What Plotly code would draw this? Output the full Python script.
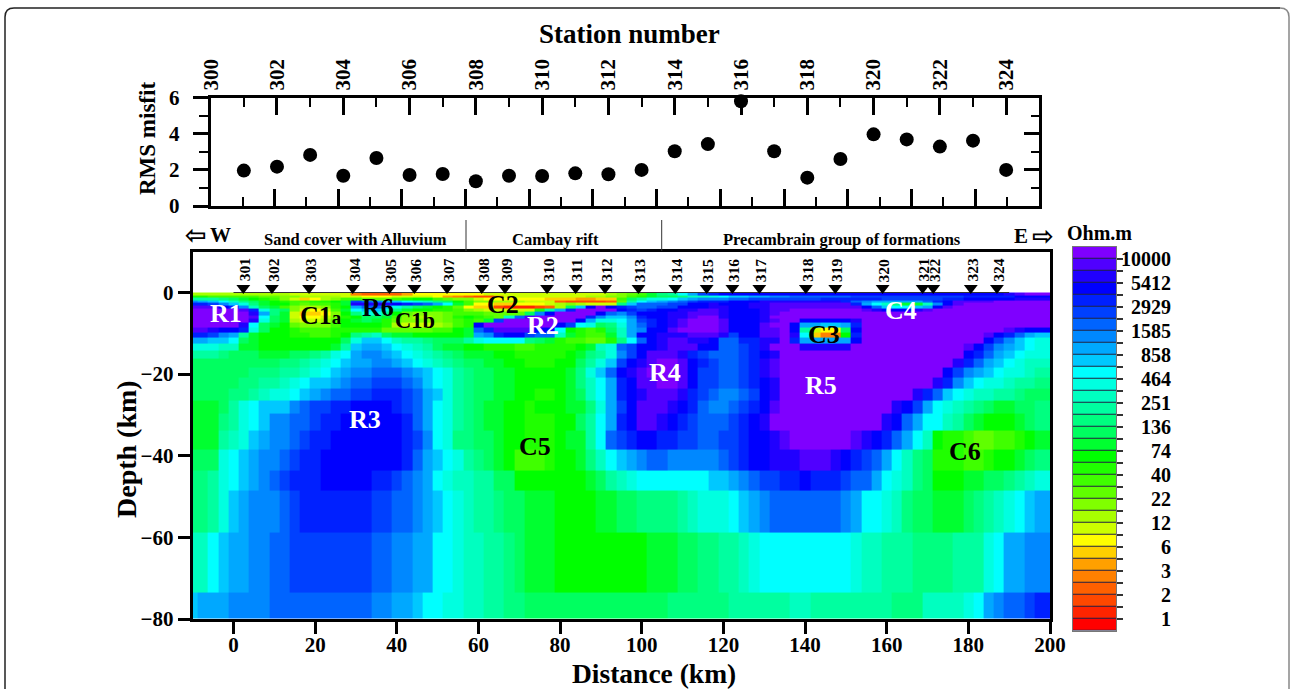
import plotly.graph_objects as go

W, H = 1290, 689
SERIF = "Liberation Serif"

# --- RMS misfit panel
station_numbers = list(range(301, 325))
rms_misfit = [1.96, 2.18, 2.83, 1.68, 2.66, 1.72, 1.77, 1.37, 1.68, 1.66, 1.81, 1.76,
              2.0, 3.03, 3.43, 5.8, 3.03, 1.57, 2.6, 3.97, 3.69, 3.29, 3.62, 2.0]

# --- station positions along the profile (km)
station_km = [2.4, 9.4, 18.5, 29.2, 38.2, 44.3, 52.3, 60.8, 66.5, 76.8, 83.8, 91.0,
              99.2, 108.2, 115.9, 122.2, 128.8, 140.2, 147.4, 159.0, 168.8, 171.4, 180.6, 187.0]

# --- resistivity section: depth cell edges (km) and colour class per cell
depth_edges = [0, -0.7, -1.3, -1.9, -2.5, -3.3, -4, -4.7, -5.6, -6.4, -7.4, -8.6, -9.8, -11.1,
               -12.6, -14.3, -16.2, -18.4, -20.9, -23.6, -26.5, -29.7, -33.9, -38.4, -43.5,
               -48.6, -58.8, -73.6, -80]
# base-32 class digit per 2.5 km cell centred on -10, -7.5, ... 197.5, 200
depth_00 = "9999 99999988 88884333 35777777 78888888 888889ab cfhilnqr ssssssss ssssssss ssssssss sssstuvv v"
depth_01 = "ddcc cccbbaa9 99988777 88887543 22588888 88899aac dfgghjjk lmmnnoop pppppqqq qqqqqqqq rrrrrsss s"
depth_02 = "iiih gfedca86 79accbbb cdeecbaa 87777776 665566cg ikklmnoo oppqqqqq qqrrrrrr qqqqqqrr sssssttt t"
depth_03 = "onml jhgfedcc ddefqpon mlkjhgec aa999888 322223bi lmnopqrr rssstttt ttttrpon nnnnprsu uuuvvvvv v"
depth_04 = "rrqo mkhfeecb ccdftttt srqpnlfc 77667778 9a9888hm pppqqsst sssttuuu uuuuurnl jhffjosu vvvvvvvv v"
depth_05 = "uuus rojgfca9 9adenppn kigfedb7 66211123 9gmsvsrq ppqqssst tssttuuu uuuuuusp mllmnsuv vvvvvvvv v"
depth_06 = "vvvv vurkhga8 78cflmmk hfeeddca 988888di nrvvvvsr qrssttuu tssstuuv vvvvvvut ssstuvvv vvvvvvvv v"
depth_07 = "vvvv vvtnhf86 67aehkki ebaaabcc cbbbbgos vvvvspoq sssttuuu tssstuvv vvvvvvvv vvvvvvvv vvvvvvvv v"
depth_08 = "vvvv vvulgf87 78adeggf ca99abde dcbjpuvv vvvrommo rssttuvv tssstvvv vvvvvvvv vvvvvvvv vvvvvvvv v"
depth_09 = "vvvv vvtkgf98 89befgfd baaaabcd cfqvvvvv vvsnkkln qrstuvvv ussstuvv ssssstvv vvvvvvvv vvvvvvvv v"
depth_10 = "vvvv vtlgfeba aaceeeed 98889acd svvvvvvv sqlkghkn prstuvvv usssuvvs nnmmnrvv vvvvvvvv vvvvvvvv v"
depth_11 = "uuts srkgeedc ccdddddb bbbbccef pruuuuss ledcdgjn ossuvvvv usssuuvs i877gsvv vvvvvvvv vvvvutss s"
depth_12 = "rrqo nifeeedd ccdehijg ffeeeeef norssqpp jfdccfjn sstttuuu tqssuuvt l644ervv vvvvvvvv vvusrpnm m"
depth_13 = "nnmm lgfeeeee eeegkmml jiihgggi kllllhgf dccbbdhl pstuutts pprrttvr nnnnnsvv vvvvvvvv vvsqomlk k"
depth_14 = "kkkj jffeeeee eefimnnm lkjigffe edddccdd ddefjkpq sstuuuss ppqrtvvv tttttvvv vvvvvvvv usqonmlk k"
depth_15 = "iiih gggfffgg hiklnoon mlkjihgf ffeedddd defhikoq suuutrqp ppqrstvv vvvvvvvv vvvvvvvv srpnmlkk k"
depth_16 = "gggg ggggghhi jklmnnoo nmlkjihg gffeeddd eegikmqs tuvvusrq ppqrtuvv vvvvvvvv vvvvvvvt rpnmlkjj j"
depth_17 = "gggg gghhhiij klmnoopp ponmlkih ggffeeee efhkmpst uvvvusqq ppqrtuvv vvvvvvvv vvvvvvsq onmlkkji i"
depth_18 = "gggg ghhiijkl mmnoppqq qpomlkih ggffeeee efhjlnrs uuvvusqq ppqrstvv vvvvvvvv vvvvvtro mlkkjiih h"
depth_19 = "gggg hhijkklm noppqqrr rqpnmkih ggffeedd efgjlnrs tuuutrqp oopqstvv vvvvvvvv vvvtrpml kjjiihgg g"
depth_20 = "fffg iklmmmop qqrrssss rqpnlkih gffeedee effhknqs uuutsrpo opqrsuvv vvvvvvvv vtsqnlkj ihgffggh h"
depth_21 = "fffh iklmoopp qrrsssss srpnlkih gffeeddd eegilnrs uutsrqpp pqrstvvv vvvvvvvv tspnllji gfeeefgh h"
depth_22 = "fffi jkmnoopq rrssssss srqolkhh ggfeeddd effilpqr ssrrqqpp qqrsstuv vvvvvuts rpnljedd cbbccdef f"
depth_23 = "gggk lmnoopqr rsssssss srpnmlki hgfecccd eefhjlmn oppooooo pqrssttt uuutsrqp nljhgddd ccdeefgh h"
depth_24 = "hhik lmnopqrr rsssssrr qponlkjj iiggeeee eeefgijk lllllllm mnopqqrr srrrqppn lkjhgeee ffgghijk k"
depth_25 = "hhik mnooopqr rrrrrrqq pponmlkj iihggfff eeeeffgg hhhhijkk klmnoppp pppponll kjhggfff ghijklmn n"
depth_26 = "jjlm nnooppqq qqqqqqpp oonnllkj jiihgfff eeeeeeee efffgghh iijkllll lllllkjj iiihhhhi iiklnnoo o"
depth_27 = "mnnn oooopppp ppppppoo nnmllkkj jiihhggg gggggggg ggghhhhh hiiiiiij jiiiiiii ihhhjjjj klnoppqr r"
depth_rows = [depth_00, depth_01, depth_02, depth_03, depth_04, depth_05, depth_06, depth_07,
              depth_08, depth_09, depth_10, depth_11, depth_12, depth_13, depth_14, depth_15,
              depth_16, depth_17, depth_18, depth_19, depth_20, depth_21, depth_22, depth_23,
              depth_24, depth_25, depth_26, depth_27]

# --- colour classes from bottom (1 ohm.m) to top (10000 ohm.m)
class_colors = ["#ff0000", "#ff2400", "#ff4800", "#ff6000", "#ff8000", "#ffa000", "#ffd000", "#ffff00",
                "#ccff00", "#a8ff00", "#80ff00", "#60ff00", "#40ff00", "#20ff00", "#00ff00", "#00ff30",
                "#00ff60", "#00ff80", "#00ffa0", "#00ffc0", "#00ffe0", "#00ffff", "#00c8ff", "#00a8ff",
                "#0088ff", "#0064ff", "#0040ff", "#0020ff", "#0000ff", "#2000ff", "#5000ff", "#7f00ff"]
scale_labels = ["10000", "5412", "2929", "1585", "858", "464", "251", "136",
                "74", "40", "22", "12", "6", "3", "2", "1"]

regions = [("R1", 226, 313, "white", 26), ("C1<span style='font-size:19px'>a</span>", 321, 315, "black", 26),
           ("R6", 378, 307, "black", 26), ("C1b", 415, 320, "black", 22.5), ("C2", 503, 305, "black", 26),
           ("R2", 543, 325, "white", 26), ("C3", 824, 334, "black", 26), ("C4", 901, 310, "white", 26),
           ("R4", 665, 372, "white", 26), ("R5", 821, 385, "white", 26), ("R3", 365, 419, "white", 26),
           ("C5", 535, 446, "black", 26), ("C6", 965, 451, "black", 26)]
section_labels = [("Sand cover with Alluvium", 355), ("Cambay rift", 555), ("Precambrain group of formations", 842)]


def px(x):
    return x / W


def py(y):
    return 1 - y / H


def bold(size):
    return dict(family=SERIF, size=size, color="black", weight="bold")


def text(txt, x, y, size, color="black", angle=0, xanchor="center", family=SERIF, **kw):
    d = dict(text=txt, x=kw.pop("xv", px(x)), y=kw.pop("yv", py(y)), xref=kw.pop("xref", "paper"),
             yref=kw.pop("yref", "paper"), showarrow=False, textangle=angle, xanchor=xanchor, yanchor="middle",
             font=dict(family=family, size=size, color=color, weight="bold"))
    return d


def cells(row):
    return [int(c, 32) for c in row.replace(" ", "")]


n_levels = len(class_colors)
colorscale = []
for i, c in enumerate(class_colors):
    colorscale += [[i / n_levels, c], [(i + 1) / n_levels, c]]

x_edges = [-11.25 + 2.5 * i for i in range(86)]
z_rows = [cells(r) for r in depth_rows][::-1]
y_edges = depth_edges[::-1]

fig = go.Figure()
# top panel
fig.add_trace(go.Scatter(x=station_numbers, y=rms_misfit, mode="markers", xaxis="x", yaxis="y", cliponaxis=False,
                         marker=dict(color="black", size=14, line=dict(width=0)), hoverinfo="skip"))
fig.add_trace(go.Scatter(x=[None], y=[None], xaxis="x4", yaxis="y4", hoverinfo="skip"))
# section
fig.add_trace(go.Heatmap(x=x_edges, y=y_edges, z=z_rows, xaxis="x2", yaxis="y2", colorscale=colorscale,
                         zmin=-0.5, zmax=n_levels - 0.5, showscale=False, hoverinfo="skip"))
fig.add_trace(go.Scatter(x=[0, 190], y=[0, 0], mode="lines", xaxis="x2", yaxis="y2",
                         line=dict(color="#333333", width=1), hoverinfo="skip"))
fig.add_trace(go.Scatter(x=station_km, y=[1.1] * len(station_km), mode="markers", xaxis="x2", yaxis="y2",
                         marker=dict(symbol="triangle-down", color="black", size=12, line=dict(width=0)),
                         hoverinfo="skip"))
# colour scale
fig.add_trace(go.Heatmap(x=[0, 1], y=[i - 0.5 for i in range(n_levels + 1)], z=[[i] for i in range(n_levels)],
                         xaxis="x3", yaxis="y3", colorscale=colorscale, zmin=-0.5, zmax=n_levels - 0.5,
                         showscale=False, ygap=1, hoverinfo="skip"))

top_dom = [py(206), py(97.7)]
x_dom = [px(210.7), px(1039.3)]
main_x = [px(192.7), px(1050)]
main_y = [py(619), py(251.7)]
LW = 3
fig.update_layout(
    width=W, height=H, margin=dict(l=0, r=0, t=0, b=0, autoexpand=False), autosize=False, showlegend=False,
    paper_bgcolor="white", plot_bgcolor="white",
    xaxis=dict(domain=x_dom, range=[300, 325], anchor="y", side="top", showgrid=False, zeroline=False,
               showline=True, linewidth=LW, linecolor="black", ticks="inside", ticklen=17, tickwidth=LW - 0.5,
               tickcolor="black", tickmode="array", tickvals=list(range(300, 325, 2)), tickangle=-90,
               tickfont=bold(21), minor=dict(tickmode="array", tickvals=list(range(301, 325, 2)), ticks="inside",
                                             ticklen=9, tickwidth=2, tickcolor="black")),
    xaxis4=dict(domain=x_dom, range=[0, 26.015], anchor="y", side="bottom", overlaying="x", showgrid=False,
                zeroline=False, showline=True, linewidth=LW, linecolor="black", ticks="inside", ticklen=17,
                tickwidth=LW - 0.5, tickcolor="black", tickmode="array", tickvals=list(range(2, 26, 2)),
                showticklabels=False,
                minor=dict(tickmode="array", tickvals=list(range(1, 27, 2)), ticks="inside", ticklen=9,
                           tickwidth=2, tickcolor="black")),
    yaxis=dict(domain=top_dom, range=[0, 6], anchor="x", side="left", showgrid=False, zeroline=False, showline=True,
               linewidth=LW, linecolor="black", ticks="outside", ticklen=15, tickwidth=LW - 0.5, tickcolor="black",
               tickmode="array", tickvals=[0, 2, 4, 6], tickfont=bold(21), ticklabelstandoff=9,
               minor=dict(tickmode="array", tickvals=[1, 3, 5], ticks="outside", ticklen=9, tickwidth=2,
                          tickcolor="black")),
    yaxis4=dict(domain=top_dom, range=[0, 6], anchor="x", side="right", overlaying="y", showgrid=False, zeroline=False,
                showline=True, linewidth=LW, linecolor="black", ticks="inside", ticklen=15, tickwidth=LW - 0.5,
                tickcolor="black", tickmode="array", tickvals=[2, 4], showticklabels=False,
                minor=dict(tickmode="array", tickvals=[1, 3, 5], ticks="inside", ticklen=8, tickwidth=2,
                           tickcolor="black")),
    xaxis2=dict(domain=main_x, range=[-10, 200], anchor="y2", showgrid=False, zeroline=False, showline=True,
                mirror=True, linewidth=LW, linecolor="black", ticks="outside", ticklen=12, tickwidth=LW - 0.5,
                tickcolor="black", tickmode="array", tickvals=list(range(0, 201, 20)), tickfont=bold(21),
                ticklabelstandoff=-7),
    yaxis2=dict(domain=main_y, range=[-80, 10], anchor="x2", showgrid=False, zeroline=False, showline=True,
                mirror=True, linewidth=LW, linecolor="black", ticks="outside", ticklen=12, tickwidth=LW - 0.5,
                tickcolor="black", tickmode="array", tickvals=[0, -20, -40, -60, -80], tickfont=bold(21)),
    xaxis3=dict(domain=[px(1073), px(1116)], range=[0, 1], anchor="y3", showgrid=False, zeroline=False,
                showline=True, mirror=True, linewidth=1, linecolor="#777777", ticks="", showticklabels=False),
    yaxis3=dict(domain=[py(630.7), py(246.7)], range=[-0.5, n_levels - 0.5], anchor="x3", side="right", showgrid=False,
                zeroline=False, showline=True, mirror=True, linewidth=1, linecolor="#777777", ticks="outside",
                ticklen=6, tickwidth=1.5, tickcolor="#333333", tickmode="array",
                tickvals=[i + 0.5 for i in range(n_levels - 1)], showticklabels=False),
)

ann = [text("Station number", 629, 34, 27), text("RMS misfit", 147, 139, 23, angle=-90),
       text("Depth (km)", 127, 449, 28, angle=-90), text("Distance (km)", 654, 673, 27.5),
       text("Ohm.m", 1099, 233, 20),
       text("\u21e6", 196, 235, 26, family="DejaVu Sans"), text("W", 220, 235, 21),
       text("E", 1021, 236, 21), text("\u21e8", 1043, 236, 26, family="DejaVu Sans")]
for label, cx in section_labels:
    ann.append(text(label, cx, 240, 16.5))
for label, cx, cy, col, size in regions:
    ann.append(text(label, cx, cy, size, color=col))
for num, km in zip(station_numbers, station_km):
    ann.append(text(str(num), 0, 270, 15.5, angle=-90, xref="x2", xv=km + 0.2))
for i, label in enumerate(scale_labels):
    ann.append(text(label, 1173, 0, 20, xanchor="right", yref="y3", yv=n_levels - 1.5 - 2 * i))
fig.update_layout(annotations=ann)

shapes = [
    dict(type="rect", xref="x3", yref="y3", x0=0, x1=1, y0=-0.5, y1=n_levels - 0.5, layer="below",
         fillcolor="#222244", line=dict(width=0)),
    dict(type="line", xref="paper", yref="paper", x0=px(466), x1=px(466), y0=py(220), y1=py(251),
         line=dict(color="#333333", width=1)),
    dict(type="line", xref="paper", yref="paper", x0=px(661.7), x1=px(661.7), y0=py(220), y1=py(251),
         line=dict(color="#333333", width=1)),
    dict(type="path", xref="paper", yref="paper", layer="below",
         path=f"M {px(5)} {py(700)} L {px(5)} {py(17)} Q {px(5)} {py(8)} {px(14)} {py(8)} L {px(1280)} {py(8)}",
         line=dict(color="#222222", width=1.5)),
    dict(type="path", xref="paper", yref="paper", layer="below",
         path=f"M {px(1280)} {py(8)} Q {px(1289)} {py(8)} {px(1289)} {py(17)} L {px(1289)} {py(700)}",
         line=dict(color="#888888", width=1.5)),
]
fig.update_layout(shapes=shapes)

fig.write_html("out.html", config={"displayModeBar": False},
               post_script="document.body.style.margin='0';document.body.style.overflow='hidden';")
